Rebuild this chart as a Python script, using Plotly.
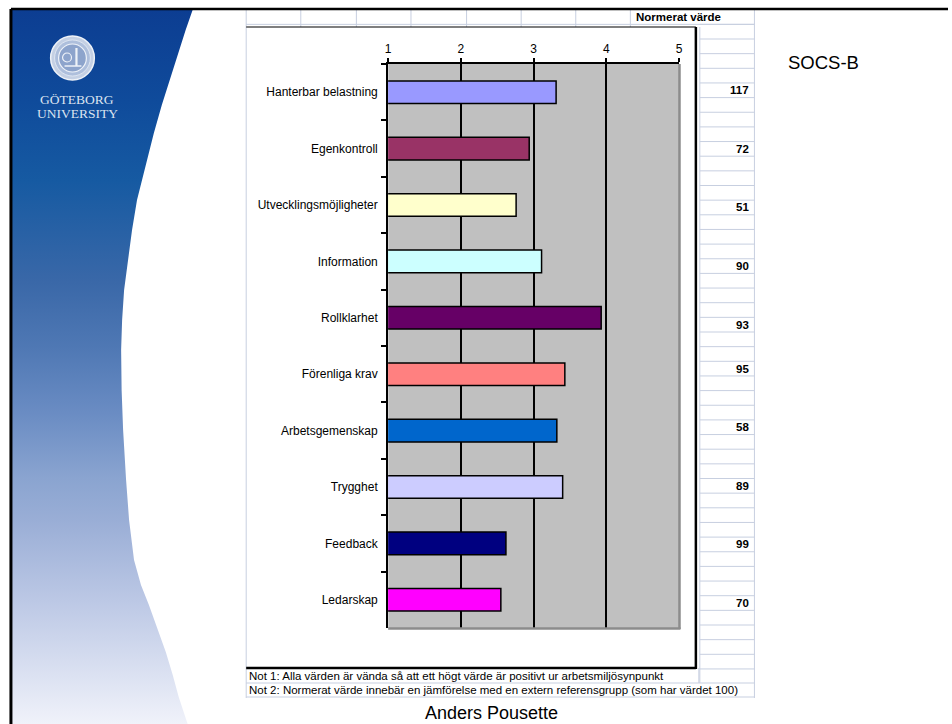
import plotly.graph_objects as go

# ---------------- data ----------------
categories = ["Hanterbar belastning", "Egenkontroll", "Utvecklingsmöjligheter",
              "Information", "Rollklarhet", "Förenliga krav", "Arbetsgemenskap",
              "Trygghet", "Feedback", "Ledarskap"]
values = [3.31, 2.94, 2.76, 3.11, 3.93, 3.43, 3.32, 3.40, 2.62, 2.55]
bar_colors = ["#9999FF", "#993366", "#FFFFCC", "#CCFFFF", "#660066",
              "#FF8080", "#0066CC", "#CCCCFF", "#000080", "#FF00FF"]
normed_values = [117, 72, 51, 90, 93, 95, 58, 89, 99, 70]
normed_rows = [5, 9, 13, 17, 21, 24, 28, 32, 36, 40]
x_ticks = [1, 2, 3, 4, 5]
title_text = "SOCS-B"
header_text = "Normerat värde"
note1 = "Not 1: Alla värden är vända så att ett högt värde är positivt ur arbetsmiljösynpunkt"
note2 = "Not 2: Normerat värde innebär en jämförelse med en extern referensgrupp (som har värdet 100)"
author = "Anders Pousette"

# ---------------- layout constants (pixels) ----------------
W, H = 952, 724
PL, PR, PT, PB = 388, 681, 64, 628          # plot area
CL, CR, CT, CB = 245, 698, 27, 668          # chart box
GRID = "#C7CFE0"
FONT = "Arial, Liberation Sans, sans-serif"
SERIF = "Liberation Serif, Times New Roman, serif"
ROW0, ROWH = 9.7, 14.65

fig = go.Figure()

# left slide panel with gradient (decoration, pixel axes)
panel_x = [8, 191, 184, 176, 168, 160, 152, 145, 139, 135, 130, 126, 122, 120, 119, 119.5,
           121, 124, 127, 132, 139, 147, 156, 164, 171, 177, 182, 186, 8]
panel_y = [10, 10, 30, 55, 80, 105, 133, 160, 182, 200, 230, 260, 290, 320, 350, 390,
           430, 480, 520, 560, 585, 605, 630, 652, 675, 697, 712, 724, 724]
fig.add_trace(go.Scatter(
    x=panel_x, y=panel_y, xaxis="x2", yaxis="y2", mode="lines",
    line=dict(width=0), fill="toself",
    fillgradient=dict(type="vertical", start=0, stop=724,
                      colorscale=[[0, "rgb(12,60,145)"], [0.14, "rgb(15,75,155)"],
                                  [0.25, "rgb(22,90,162)"], [0.39, "rgb(58,104,168)"],
                                  [0.48, "rgb(79,120,180)"], [0.57, "rgb(106,140,195)"],
                                  [0.66, "rgb(138,164,208)"], [0.72, "rgb(154,174,214)"],
                                  [0.83, "rgb(188,200,229)"], [1, "rgb(240,242,250)"]]),
    hoverinfo="skip", showlegend=False))

# bars
fig.add_trace(go.Bar(
    y=categories, x=values, orientation="h",
    marker=dict(color=bar_colors, line=dict(color="black", width=1.5)),
    showlegend=False, hoverinfo="x+y"))

shapes = []

def line(x0, y0, x1, y1, color=GRID, width=1):
    shapes.append(dict(type="line", xref="x2", yref="y2", x0=x0, y0=y0, x1=x1, y1=y1,
                       line=dict(color=color, width=width), layer="above"))

# gray plot background
shapes.append(dict(type="rect", xref="x", yref="y domain", x0=1, x1=5, y0=0, y1=1,
                   fillcolor="#C0C0C0", line=dict(width=0), layer="below"))

# spreadsheet grid
for xv in [300, 356, 411, 467, 522, 577, 632]:
    line(xv, ROW0, xv, CT)
line(CL, ROW0 + ROWH, 757, ROW0 + ROWH)
line(CL, ROW0, CL, 698)
line(702, CT, 702, 683)
line(757, ROW0, 757, 698)
for k in range(1, 48):
    yv = ROW0 + ROWH * k
    if yv < 683:
        line(702, yv, 757, yv)
line(CL, 683, 757, 683)
line(CL, 697, 757, 697)
line(701, CB, 701, 683)

# chart box borders
line(CL, CT, CR, CT, "black", 1.2)
line(CR, CT, CR, CB + 1, "black", 2.5)
line(CL, CB, CR, CB, "black", 2.5)

# gray right/bottom plot border
line(PR + 0.5, PT, PR + 0.5, PB + 1, "#8C8C8C", 2.5)
line(PL, PB + 0.5, PR + 1.5, PB + 0.5, "#8C8C8C", 2.5)

# slide frame
line(8, 9, W, 9, "black", 2.5)
line(8, 9, 8, H, "black", 3)

# seal
cx, cy = 70, 58
for r, fc, lc, lw in [(22, "#c4d0e4", "#eef2f8", 1.5), (18, "#aebfdc", "#e6ecf5", 0.8),
                      (14, "#8da4cc", "#eef2f8", 1.2)]:
    shapes.append(dict(type="circle", xref="x2", yref="y2", x0=cx - r, x1=cx + r,
                       y0=cy - r, y1=cy + r, fillcolor=fc, line=dict(color=lc, width=lw),
                       layer="above"))
shapes.append(dict(type="circle", xref="x2", yref="y2", x0=cx - 10, x1=cx - 1,
                   y0=cy - 5, y1=cy + 4, fillcolor="rgba(0,0,0,0)",
                   line=dict(color="#eef2f8", width=1.2), layer="above"))
line(cx + 4, cy - 10, cx + 4, cy + 8, "#eef2f8", 2.2)
line(cx - 8, cy + 8, cx + 9, cy + 8, "#eef2f8", 1.5)

annotations = []

def text(x, y, s, size, xanchor="left", bold=False, color="black", family=FONT):
    annotations.append(dict(xref="x2", yref="y2", x=x, y=y, text=f"<b>{s}</b>" if bold else s,
                            showarrow=False, xanchor=xanchor, yanchor="middle",
                            font=dict(size=size, color=color, family=family)))

text(680, 17, header_text, 11.5, "center", bold=True)
for v, r in zip(normed_values, normed_rows):
    text(754, ROW0 + ROWH * (r + 0.5), str(v), 11.5, "right", bold=True)
text(789, 62, title_text, 18.5)
text(246, 676, note1, 11.5)
text(246, 690, note2, 11.5)
text(492, 713, author, 18, "center")
text(75, 99, "GÖTEBORG", 13.5, "center", color="#dbe3f0", family=SERIF)
text(75, 113, "UNIVERSITY", 13.5, "center", color="#dbe3f0", family=SERIF)

fig.update_layout(
    width=W, height=H, margin=dict(l=0, r=0, t=0, b=0),
    paper_bgcolor="white", plot_bgcolor="rgba(0,0,0,0)",
    showlegend=False, bargap=0.6,
    font=dict(family=FONT, color="black"),
    xaxis=dict(domain=[PL / W, PR / W], range=[1, 5], side="top", tickvals=x_ticks,
               ticks="outside", ticklen=4, tickwidth=1.5, tickcolor="black",
               showline=True, linecolor="black", linewidth=2,
               showgrid=True, gridcolor="black", gridwidth=1.5, zeroline=False,
               tickfont=dict(size=12, color="black", family=FONT), anchor="y",
               fixedrange=True),
    yaxis=dict(domain=[1 - PB / H, 1 - PT / H], type="category",
               categoryorder="array", categoryarray=categories, autorange="reversed",
               tickson="boundaries", ticks="outside", ticklen=5, tickwidth=1.5,
               tickcolor="black", showline=True, linecolor="black", linewidth=2,
               showgrid=False, zeroline=False, ticklabelstandoff=6,
               tickfont=dict(size=12, color="black", family=FONT), fixedrange=True),
    xaxis2=dict(domain=[0, 1], range=[0, W], visible=False, anchor="y2", fixedrange=True),
    yaxis2=dict(domain=[0, 1], range=[H, 0], visible=False, anchor="x2", fixedrange=True),
    shapes=shapes, annotations=annotations,
)

fig.write_html("out.html", config={"displayModeBar": False},
               post_script="document.body.style.margin='0px';document.body.style.overflow='hidden';")
